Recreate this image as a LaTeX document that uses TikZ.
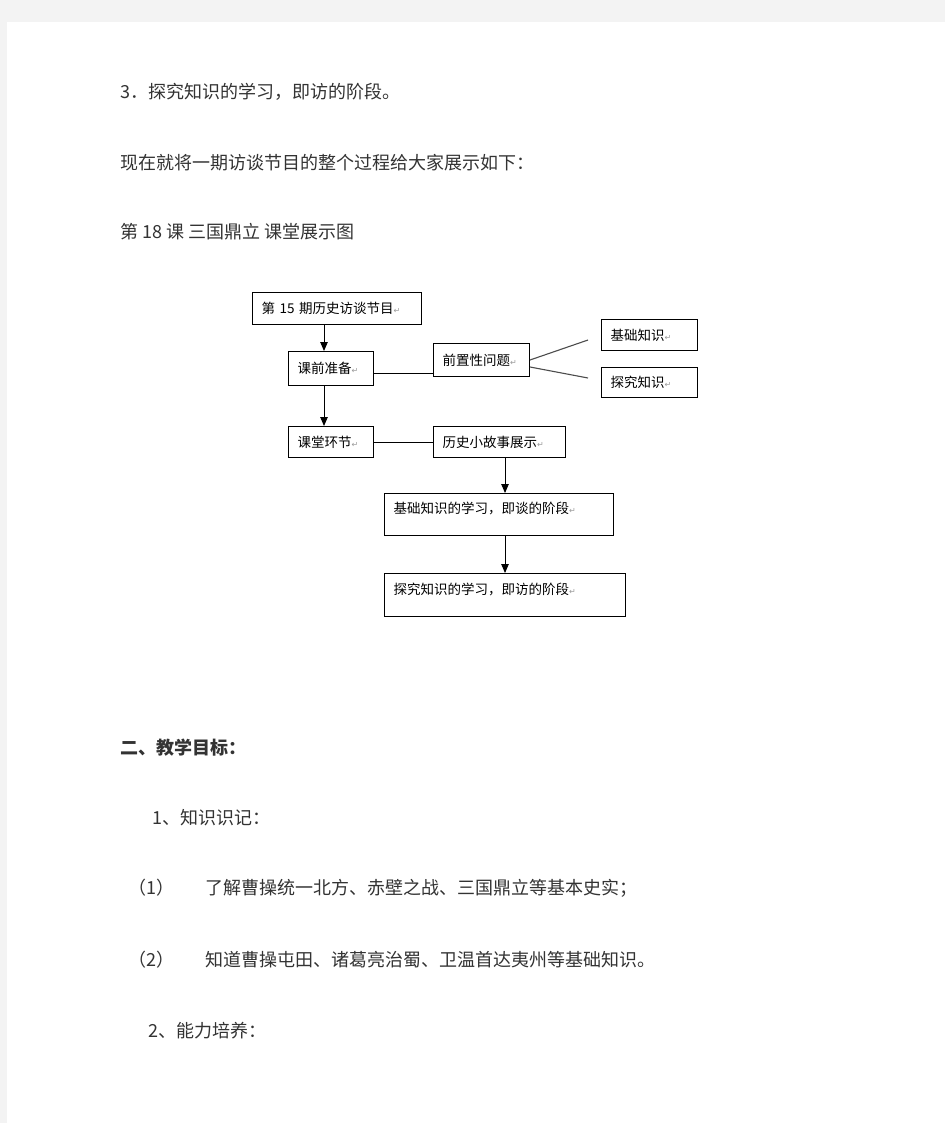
\documentclass[tikz,border=0pt]{standalone}
\usepackage{fontspec}
\setmainfont{Noto Sans CJK SC}
\newfontfamily\mkfont{DejaVu Sans}
\usetikzlibrary{arrows.meta}
\definecolor{txt}{HTML}{333333}
\definecolor{pagegray}{HTML}{F3F3F3}
\definecolor{markgray}{HTML}{9A9A9A}
\newcommand\parmk{\textcolor{markgray}{\mkfont\fontsize{8}{8}\selectfont ↵}}
\begin{document}
\begin{tikzpicture}[x=1pt,y=-1pt,
  txtline/.style={anchor=west,inner sep=0pt,text=txt,font=\fontsize{18}{20}\selectfont},
  fbox/.style={draw=black,line width=1pt,anchor=north west,inner xsep=9pt,inner ysep=0pt,align=left,font=\fontsize{13.5}{15}\selectfont},
  conn/.style={line width=0.9pt},
  arr/.style={conn,-{Triangle[length=9pt,width=7.5pt]}},
  branch/.style={line width=1.1pt,draw=black!70}]
\fill[pagegray] (0,0) rectangle (945,1123);
\fill[white] (7,22) rectangle (945,1123);
\useasboundingbox (0,0) rectangle (945,1123);

% body text
\node[txtline] (t1) at (120,92) {3．探究知识的学习，即访的阶段。};
\node[txtline] (t2) at (120,163) {现在就将一期访谈节目的整个过程给大家展示如下：};
\node[txtline] (t3) at (120,232) {第 18 课 三国鼎立 课堂展示图};
\node[txtline,font=\fontsize{18}{20}\selectfont\bfseries] (t4) at (120,748) {二、教学目标：};
\node[txtline] (t5) at (152,818) {1、知识识记：};
\node[txtline] (t6a) at (128,888) {（1）};
\node[txtline] (t6b) at (205,888) {了解曹操统一北方、赤壁之战、三国鼎立等基本史实；};
\node[txtline] (t7a) at (128,960) {（2）};
\node[txtline] (t7b) at (205,960) {知道曹操屯田、诸葛亮治蜀、卫温首达夷州等基础知识。};
\node[txtline] (t8) at (148,1031) {2、能力培养：};

% diagram boxes
\node[fbox,line width=1.4pt,text width=151pt,minimum height=32pt] (b1) at (252,292) {第 15 期历史访谈节目\parmk};
\node[fbox,text width=67pt,minimum height=34pt] (b2) at (288,351) {课前准备\parmk};
\node[fbox,text width=78pt,minimum height=33pt] (b3) at (433,343) {前置性问题\parmk};
\node[fbox,text width=78pt,minimum height=31pt] (b4) at (601,319) {基础知识\parmk};
\node[fbox,text width=78pt,minimum height=30pt] (b5) at (601,367) {探究知识\parmk};
\node[fbox,text width=67pt,minimum height=31pt] (b6) at (288,426) {课堂环节\parmk};
\node[fbox,text width=114pt,minimum height=31pt] (b7) at (433,426) {历史小故事展示\parmk};
\node[fbox,text width=211pt,text height=19.5pt,text depth=22.5pt] (b8) at (384,493) {基础知识的学习，即谈的阶段\parmk};
\node[fbox,text width=223pt,text height=20.5pt,text depth=22.5pt] (b9) at (384,573) {探究知识的学习，即访的阶段\parmk};

% connectors
\coordinate (ax1) at (324,0);
\coordinate (ax2) at (505,0);
\coordinate (ly) at (0,373);
\coordinate (s1) at (0,360);
\coordinate (s2) at (0,367);
\coordinate (e1) at (588,340);
\coordinate (e2) at (588,378);
\draw[arr] (b1.south -| ax1) -- (b2.north -| ax1);
\draw[arr] (b2.south -| ax1) -- (b6.north -| ax1);
\draw[conn] (b2.east |- ly) -- (b3.west |- ly);
\draw[conn] (b6.east) -- (b7.west);
\draw[branch] (b3.east |- s1) -- (e1);
\draw[branch] (b3.east |- s2) -- (e2);
\draw[arr] (b7.south -| ax2) -- (b8.north -| ax2);
\draw[arr] (b8.south -| ax2) -- (b9.north -| ax2);
\end{tikzpicture}
\end{document}
